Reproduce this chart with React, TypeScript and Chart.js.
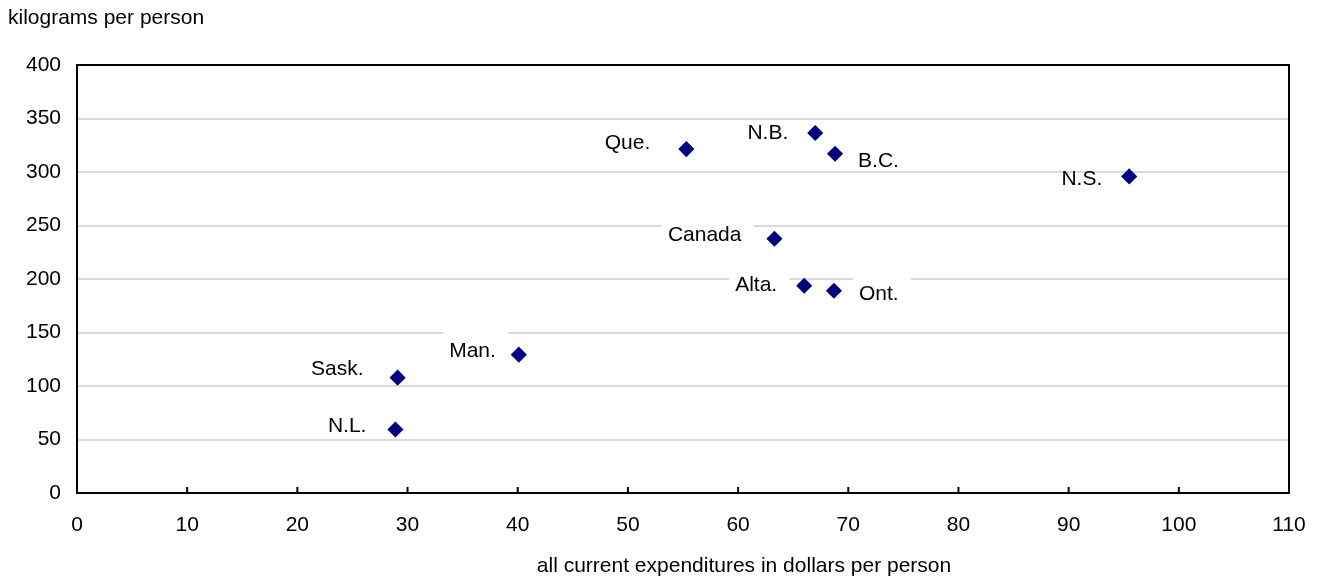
import { useEffect, useRef } from "react";
import { Chart, registerables } from "chart.js";

Chart.register(...registerables);

// ---- data ----
const provinces = ["N.L.", "Sask.", "Man.", "Que.", "Canada", "N.B.", "B.C.", "Alta.", "Ont.", "N.S."];
const expenditures = [28.9, 29.1, 40.1, 55.3, 63.3, 67.0, 68.8, 66.0, 68.7, 95.5];
const kilograms = [59.3, 107.8, 129.3, 321.4, 237.6, 336.5, 317.0, 193.7, 189.0, 295.9];
const xTickValues = [0, 10, 20, 30, 40, 50, 60, 70, 80, 90, 100, 110];
const yTickValues = [0, 50, 100, 150, 200, 250, 300, 350, 400];
const yAxisTitle = "kilograms per person";
const xAxisTitle = "all current expenditures in dollars per person";

// ---- label placement (pixel offsets from marker) ----
type Place = { dx: number; dy: number; align: "left" | "right"; padTop?: number; box?: boolean };
const labelPlacement: Record<string, Place> = {
  "N.L.": { dx: -29, dy: -5.5, align: "right" },
  "Sask.": { dx: -34, dy: -10, align: "right" },
  "Man.": { dx: -23, dy: -5.5, align: "right", padTop: 11 },
  "Que.": { dx: -36, dy: -7.5, align: "right" },
  "Canada": { dx: -33, dy: -5, align: "right" },
  "N.B.": { dx: -27, dy: -1, align: "right" },
  "B.C.": { dx: 23, dy: 6, align: "left", box: false },
  "Alta.": { dx: -27, dy: -2.5, align: "right" },
  "Ont.": { dx: 25, dy: 1.5, align: "left", padTop: 8 },
  "N.S.": { dx: -27, dy: 1.5, align: "right", box: false },
};

const FONT = '"Liberation Sans", Arial, Helvetica, sans-serif';
const LABEL_SIZE = 21;
const TICK_SIZE = 21;
const TITLE_SIZE = 21;

const decorPlugin = {
  id: "decor",
  beforeDatasetsDraw(chart: any) {
    const ctx = chart.ctx as CanvasRenderingContext2D;
    const meta = chart.getDatasetMeta(0);
    ctx.save();
    ctx.font = `${LABEL_SIZE}px ${FONT}`;
    ctx.textAlign = "left";
    ctx.textBaseline = "alphabetic";
    const capH = 0.716 * LABEL_SIZE;
    meta.data.forEach((pt: any, i: number) => {
      const name = provinces[i];
      const p = labelPlacement[name];
      if (!p) return;
      const w = ctx.measureText(name).width;
      const left = p.align === "right" ? pt.x + p.dx - w : pt.x + p.dx;
      const capTop = pt.y + p.dy - capH / 2;
      const padTop = p.padTop ?? 4;
      if (p.box !== false) {
        ctx.fillStyle = "#ffffff";
        ctx.fillRect(left - 6, capTop - padTop, w + 18, capH + padTop + 4);
      }
      ctx.fillStyle = "#000000";
      ctx.fillText(name, left, capTop + capH);
    });
    ctx.restore();
  },
  afterDraw(chart: any) {
    const ctx = chart.ctx as CanvasRenderingContext2D;
    const { left, right, top, bottom } = chart.chartArea;
    ctx.save();
    // plot frame
    ctx.strokeStyle = "#000000";
    ctx.lineWidth = 2;
    ctx.strokeRect(left, top, right - left, bottom - top);
    // inward tick marks on x axis
    const xs = chart.scales.x;
    xs.ticks.forEach((t: any, i: number) => {
      if (i === 0 || i === xs.ticks.length - 1) return;
      const px = xs.getPixelForValue(t.value);
      ctx.beginPath();
      ctx.moveTo(px, bottom);
      ctx.lineTo(px, bottom - 6);
      ctx.stroke();
    });
    // titles
    ctx.fillStyle = "#000000";
    ctx.font = `${TITLE_SIZE}px ${FONT}`;
    ctx.textBaseline = "alphabetic";
    ctx.textAlign = "left";
    ctx.fillText(yAxisTitle, 8, 24);
    ctx.textAlign = "center";
    ctx.fillText(xAxisTitle, 744, 572);
    ctx.restore();
  },
};

export default function App() {
  const canvasRef = useRef<HTMLCanvasElement | null>(null);

  useEffect(() => {
    if (!canvasRef.current) return;
    const chart = new Chart(canvasRef.current, {
      type: "scatter",
      data: {
        datasets: [
          {
            label: "provinces",
            data: expenditures.map((x, i) => ({ x, y: kilograms[i] })),
            pointStyle: "rectRot",
            pointRadius: 7,
            pointHoverRadius: 7,
            backgroundColor: "#000080",
            borderColor: "#000080",
            borderWidth: 1.5,
          },
        ],
      },
      options: {
        responsive: true,
        maintainAspectRatio: false,
        animation: false,
        events: [],
        layout: { padding: { left: 0, top: 65, right: 28, bottom: 0 } },
        plugins: {
          legend: { display: false },
          tooltip: { enabled: false },
          title: { display: false },
        },
        scales: {
          x: {
            type: "linear",
            min: xTickValues[0],
            max: xTickValues[xTickValues.length - 1],
            afterBuildTicks: (scale: any) => {
              scale.ticks = xTickValues.map((v) => ({ value: v }));
            },
            afterFit: (scale: any) => {
              scale.height = 90;
              scale.paddingLeft = 0;
              scale.paddingRight = 0;
            },
            grid: { display: false, drawTicks: false, tickLength: 0 },
            border: { display: false },
            ticks: {
              color: "#000000",
              font: { family: FONT, size: TICK_SIZE },
              padding: 20,
              maxRotation: 0,
              autoSkip: false,
            },
          },
          y: {
            type: "linear",
            min: yTickValues[0],
            max: yTickValues[yTickValues.length - 1],
            afterBuildTicks: (scale: any) => {
              scale.ticks = yTickValues.map((v) => ({ value: v }));
            },
            afterFit: (scale: any) => {
              scale.width = 77;
              scale.paddingTop = 0;
              scale.paddingBottom = 0;
            },
            grid: {
              color: (c: any) => (c.tick && (c.tick.value === 0 || c.tick.value === 400) ? "rgba(0,0,0,0)" : "#dadada"),
              lineWidth: 2,
              drawTicks: false,
              tickLength: 0,
            },
            border: { display: false },
            ticks: {
              color: "#000000",
              font: { family: FONT, size: TICK_SIZE },
              padding: 16,
              autoSkip: false,
            },
          },
        },
      },
      plugins: [decorPlugin],
    });
    return () => chart.destroy();
  }, []);

  return (
    <div style={{ position: "absolute", left: 0, top: 0, width: 1317, height: 583, background: "#ffffff" }}>
      <canvas ref={canvasRef} />
    </div>
  );
}
